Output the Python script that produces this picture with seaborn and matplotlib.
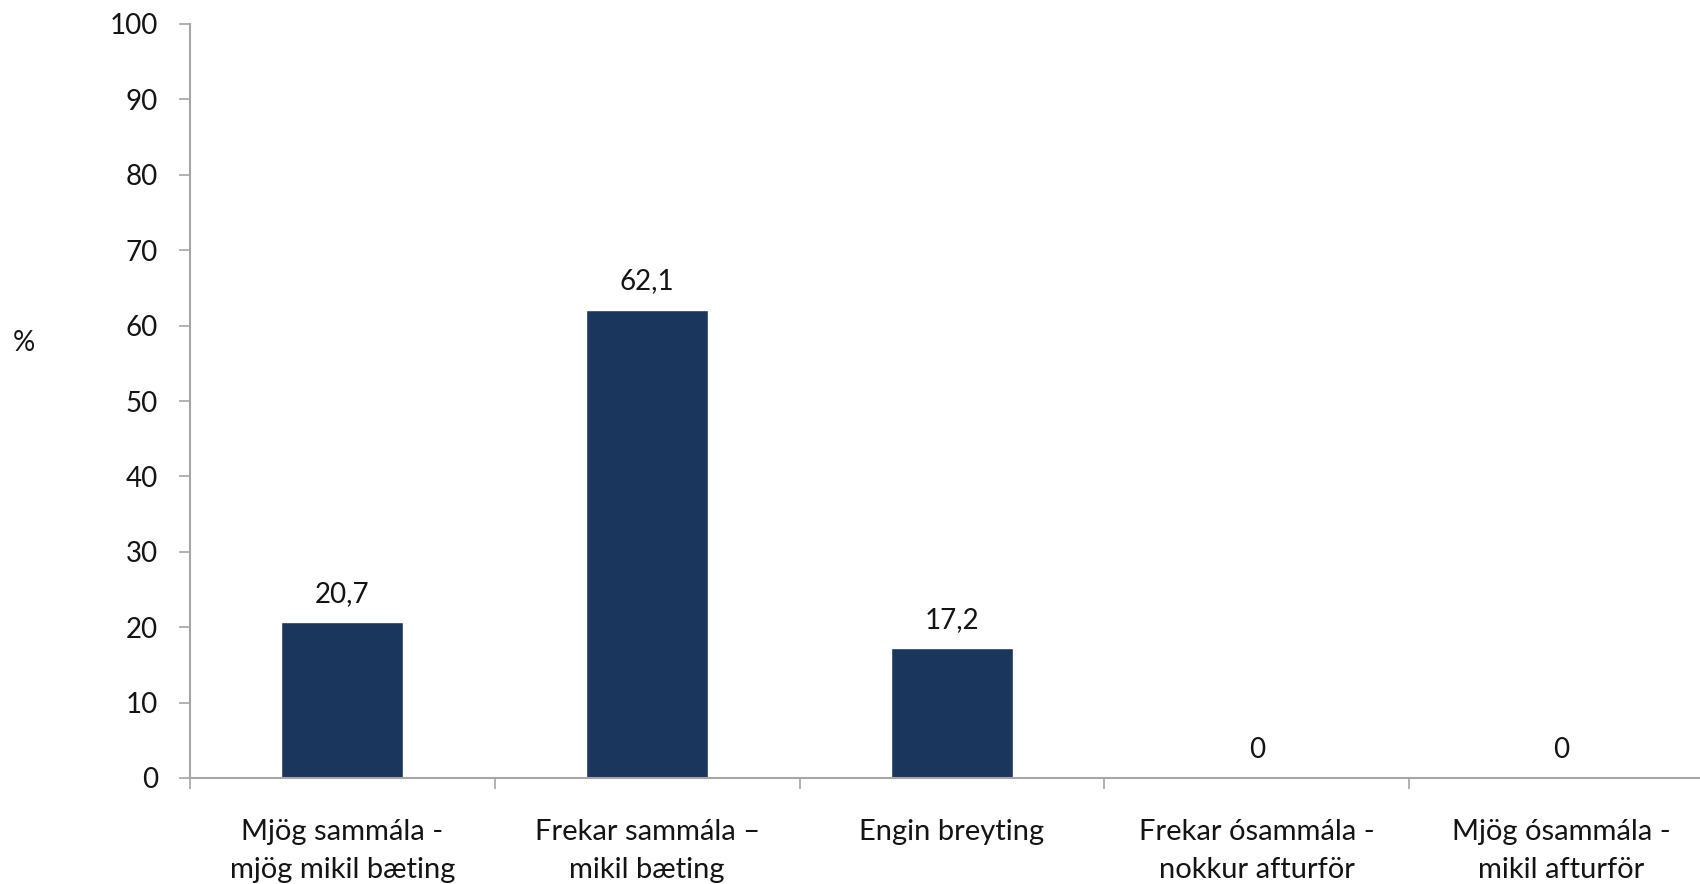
import matplotlib
matplotlib.use("Agg")
import matplotlib.pyplot as plt
import seaborn as sns

# data
categories = [
    "Mjög sammála -\nmjög mikil bæting",
    "Frekar sammála –\nmikil bæting",
    "Engin breyting",
    "Frekar ósammála -\nnokkur afturför",
    "Mjög ósammála -\nmikil afturför",
]
values = [20.7, 62.1, 17.2, 0, 0]
value_labels = ["20,7", "62,1", "17,2", "0", "0"]
y_ticks = [0, 10, 20, 30, 40, 50, 60, 70, 80, 90, 100]

sns.set_theme(style="white")
plt.rcParams["font.family"] = ["Lato", "DejaVu Sans"]

BAR_COLOR = "#1B365D"
SPINE_COLOR = "#A6A6A6"
TEXT_COLOR = "#141414"

W, H = 1700, 884
fig = plt.figure(figsize=(W / 100, H / 100), dpi=100)
# the plot area runs a little past the right edge of the picture
ax = fig.add_axes([190 / W, 1 - 778 / H, (1714 - 190) / W, (778 - 24) / H])

sns.barplot(x=list(range(len(values))), y=values, color=BAR_COLOR,
            width=0.4, saturation=1, ax=ax)

ax.set_xlim(-0.5, len(values) - 0.5)
ax.set_ylim(0, 100)
ax.set_yticks(y_ticks)
ax.set_yticklabels([str(t) for t in y_ticks])

# category labels centred, boundary ticks as minor ticks
ax.set_xticks(range(len(categories)))
ax.set_xticklabels(categories, linespacing=1.55)
ax.set_xticks([i - 0.5 for i in range(len(categories))], minor=True)
ax.tick_params(axis="x", which="major", length=0, pad=29.5,
               labelsize=21, labelcolor=TEXT_COLOR)
ax.tick_params(axis="x", which="minor", length=8, width=1.2,
               color=SPINE_COLOR, direction="out", bottom=True)
ax.tick_params(axis="y", length=8, width=1.2, color=SPINE_COLOR,
               direction="out", left=True, pad=15,
               labelsize=20, labelcolor=TEXT_COLOR)

for side in ["top", "right"]:
    ax.spines[side].set_visible(False)
for side in ["left", "bottom"]:
    ax.spines[side].set_color(SPINE_COLOR)
    ax.spines[side].set_linewidth(1.5)

ax.set_xlabel("")
ax.set_ylabel("")
fig.text(24 / W, 1 - 343 / H, "%", fontsize=20, color=TEXT_COLOR,
         ha="center", va="center")

for i, (v, lab) in enumerate(zip(values, value_labels)):
    ax.annotate(lab, (i, v), xytext=(0, 11), textcoords="offset points",
                ha="center", va="bottom", fontsize=20, color=TEXT_COLOR)

fig.savefig("out.png", dpi=100)
